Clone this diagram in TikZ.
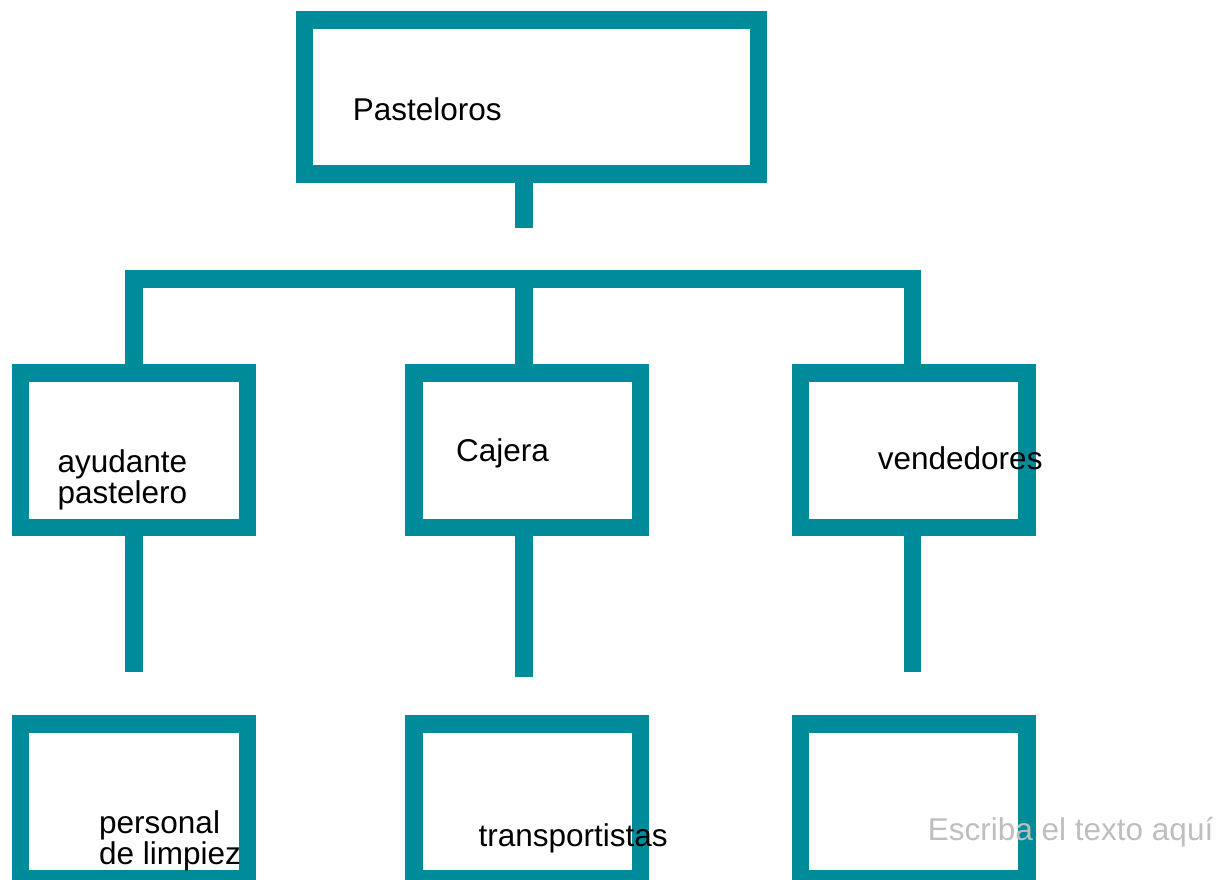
\documentclass[tikz,border=0pt]{standalone}
\usepackage{fontspec}
\setmainfont{Liberation Sans}
\definecolor{teal1}{RGB}{0,139,155}
\definecolor{hint}{RGB}{190,190,190}
\begin{document}
\begin{tikzpicture}[x=1pt,y=-1pt,
  orgbox/.style={draw=teal1,line width=17.5pt,minimum width=226.8pt,minimum height=154.5pt,inner sep=0pt},
  topbox/.style={orgbox,minimum width=454.2pt,minimum height=154.4pt},
  link/.style={draw=teal1,line width=17.5pt},
  lbl/.style={anchor=base west,inner sep=0pt,align=left,font=\fontsize{31.5}{31}\selectfont},
  ghost/.style={lbl,text=hint}]
\clip (0,0) rectangle (1230,879);
% boxes
\node[topbox] (top) at (531.6,97) {};
\node[orgbox] (m1) at (133.9,450.2) {};
\node[orgbox] (m2) at (527.2,450.2) {};
\node[orgbox] (m3) at (913.8,450.2) {};
\node[orgbox] (b1) at (133.9,801.3) {};
\node[orgbox] (b2) at (527.2,801.3) {};
\node[orgbox] (b3) at (913.8,801.3) {};
% free ends and bar
\coordinate (tstem) at (524,227.7);
\coordinate (barL) at (133.8,278.8);
\coordinate (barM) at (524,278.8);
\coordinate (barR) at (912.5,278.8);
\coordinate (s1) at (133.8,671.7);
\coordinate (s2) at (524,677.3);
\coordinate (s3) at (912.5,671.7);
% connectors
\draw[link] (tstem |- top.south) -- (tstem);
\draw[link] (barL |- m1.north) -- (barL) -- (barR) -- (barR |- m3.north);
\draw[link] (barM) -- (barM |- m2.north);
\draw[link] (s1 |- m1.south) -- (s1);
\draw[link] (s2 |- m2.south) -- (s2);
\draw[link] (s3 |- m3.south) -- (s3);
% labels
\node[lbl] (tTop) at (352.7,120.7) {Pasteloros};
\node[lbl] (tM1) at (57.3,503.3) {ayudante\\pastelero};
\node[lbl] (tM2) at (456,461.7) {Cajera};
\node[lbl] (tM3) at (877.7,469.3) {vendedores};
\node[lbl] (tB1) at (99,864.3) {personal\\de limpiez};
\node[lbl] (tB2) at (478.3,846.7) {transportistas};
\node[ghost] (tB3) at (927.7,840) {Escriba el texto aquí};
\end{tikzpicture}
\end{document}
